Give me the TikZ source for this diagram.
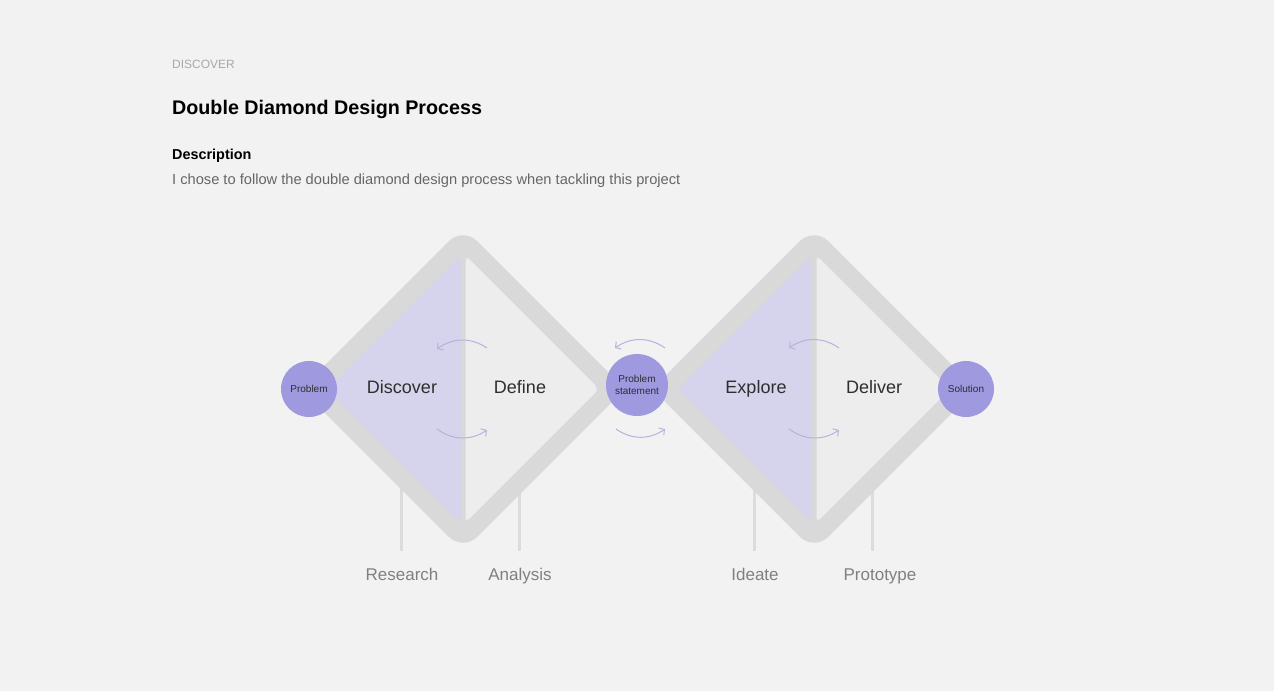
\documentclass[tikz,border=0pt]{standalone}
\usepackage{fontspec}
\setmainfont{Liberation Sans}
\usetikzlibrary{arrows.meta}
\definecolor{bg}{HTML}{F2F2F2}
\definecolor{band}{HTML}{D9D9D9}
\definecolor{lilac}{HTML}{D6D3EC}
\definecolor{halfgray}{HTML}{EDEDED}
\definecolor{dot}{HTML}{9F99DF}
\definecolor{arrowc}{HTML}{B7B2DD}
\definecolor{ink}{HTML}{2E2E2E}
\definecolor{soft}{HTML}{666666}
\definecolor{faint}{HTML}{A8A8A8}
\definecolor{lbl}{HTML}{808080}
\definecolor{stem}{HTML}{DCDCDC}
\tikzset{
  circ/.style={circle, fill=dot, minimum size=#1, inner sep=0pt, text=ink,
     font=\fontsize{10}{12}\selectfont, align=center},
  phase/.style={text=ink, font=\fontsize{18}{20}\selectfont, anchor=base},
  sublbl/.style={text=lbl, font=\fontsize{17}{20}\selectfont, anchor=base},
  loop/.style={draw=arrowc, line width=1pt, -{Straight Barb[length=4pt,width=9pt]}},
  stemline/.style={draw=stem, line width=3pt},
}
\begin{document}
\begin{tikzpicture}[x=1pt,y=1pt]
\fill[bg] (0,0) rectangle (1274,-691);
\useasboundingbox (0,0) rectangle (1274,-691);

% header
\node[anchor=base west, inner sep=0pt, text=faint, font=\fontsize{12}{14}\selectfont] (kicker) at (172,-68) {DISCOVER};
\node[anchor=base west, inner sep=0pt, text=black, font=\fontsize{19.7}{24}\selectfont\bfseries] (title) at (172,-114) {Double Diamond Design Process};
\node[anchor=base west, inner sep=0pt, text=black, font=\fontsize{14.4}{17}\selectfont\bfseries] (desch) at (172,-159) {Description};
\node[anchor=base west, inner sep=0pt, text=soft, font=\fontsize{14.65}{17}\selectfont] (desc) at (172,-184) {I chose to follow the double diamond design process when tackling this project};

% stems
\foreach \sx/\nm in {401/sa,519/sb,754/sc,872/sd}{
  \coordinate (\nm top) at (\sx,-470);
  \coordinate (\nm bot) at (\sx,-551);
  \draw[stemline] (\nm top) -- (\nm bot);
}

% diamonds
\foreach \cx in {463,814}{
  \fill[band, rounded corners=20pt] (\cx-162,-389) -- (\cx,-389+162) -- (\cx+162,-389) -- (\cx,-389-162) -- cycle;
  \fill[lilac, rounded corners=5pt] (\cx-136,-389) -- (\cx-2.5,-389+133.5) -- (\cx-2.5,-389-133.5) -- cycle;
  \fill[halfgray, rounded corners=5pt] (\cx+2.5,-389+133.5) -- (\cx+136,-389) -- (\cx+2.5,-389-133.5) -- cycle;
}

% phase labels
\node[phase] (discover) at (402,-393) {Discover};
\node[phase] (define) at (520,-393) {Define};
\node[phase] (explore) at (756,-393) {Explore};
\node[phase] (deliver) at (874,-393) {Deliver};

% sub labels
\node[sublbl] (research) at (402,-580) {Research};
\node[sublbl] (analysis) at (520,-580) {Analysis};
\node[sublbl] (ideate) at (755,-580) {Ideate};
\node[sublbl] (prototype) at (880,-580) {Prototype};

% circles
\node[circ=56pt] (problem) at (309,-389) {Problem};
\node[circ=62pt, font=\fontsize{10}{12}\selectfont] (pstate) at (637,-385) {Problem\\statement};
\node[circ=56pt] (solution) at (966,-389) {Solution};

% loop arrows
\coordinate (a1s) at (487,-348); \coordinate (a1e) at (437,-349);
\coordinate (b1s) at (437,-429); \coordinate (b1e) at (487,-430);
\coordinate (a2s) at (665,-348); \coordinate (a2e) at (615,-348);
\coordinate (b2s) at (616,-429); \coordinate (b2e) at (665,-429);
\coordinate (a3s) at (839,-348); \coordinate (a3e) at (789,-348);
\coordinate (b3s) at (789,-429); \coordinate (b3e) at (839,-430);
\foreach \p in {a1,b1,a2,b2,a3,b3}{
  \draw[loop] (\p s) to[bend right=35] (\p e);
}
\end{tikzpicture}
\end{document}
